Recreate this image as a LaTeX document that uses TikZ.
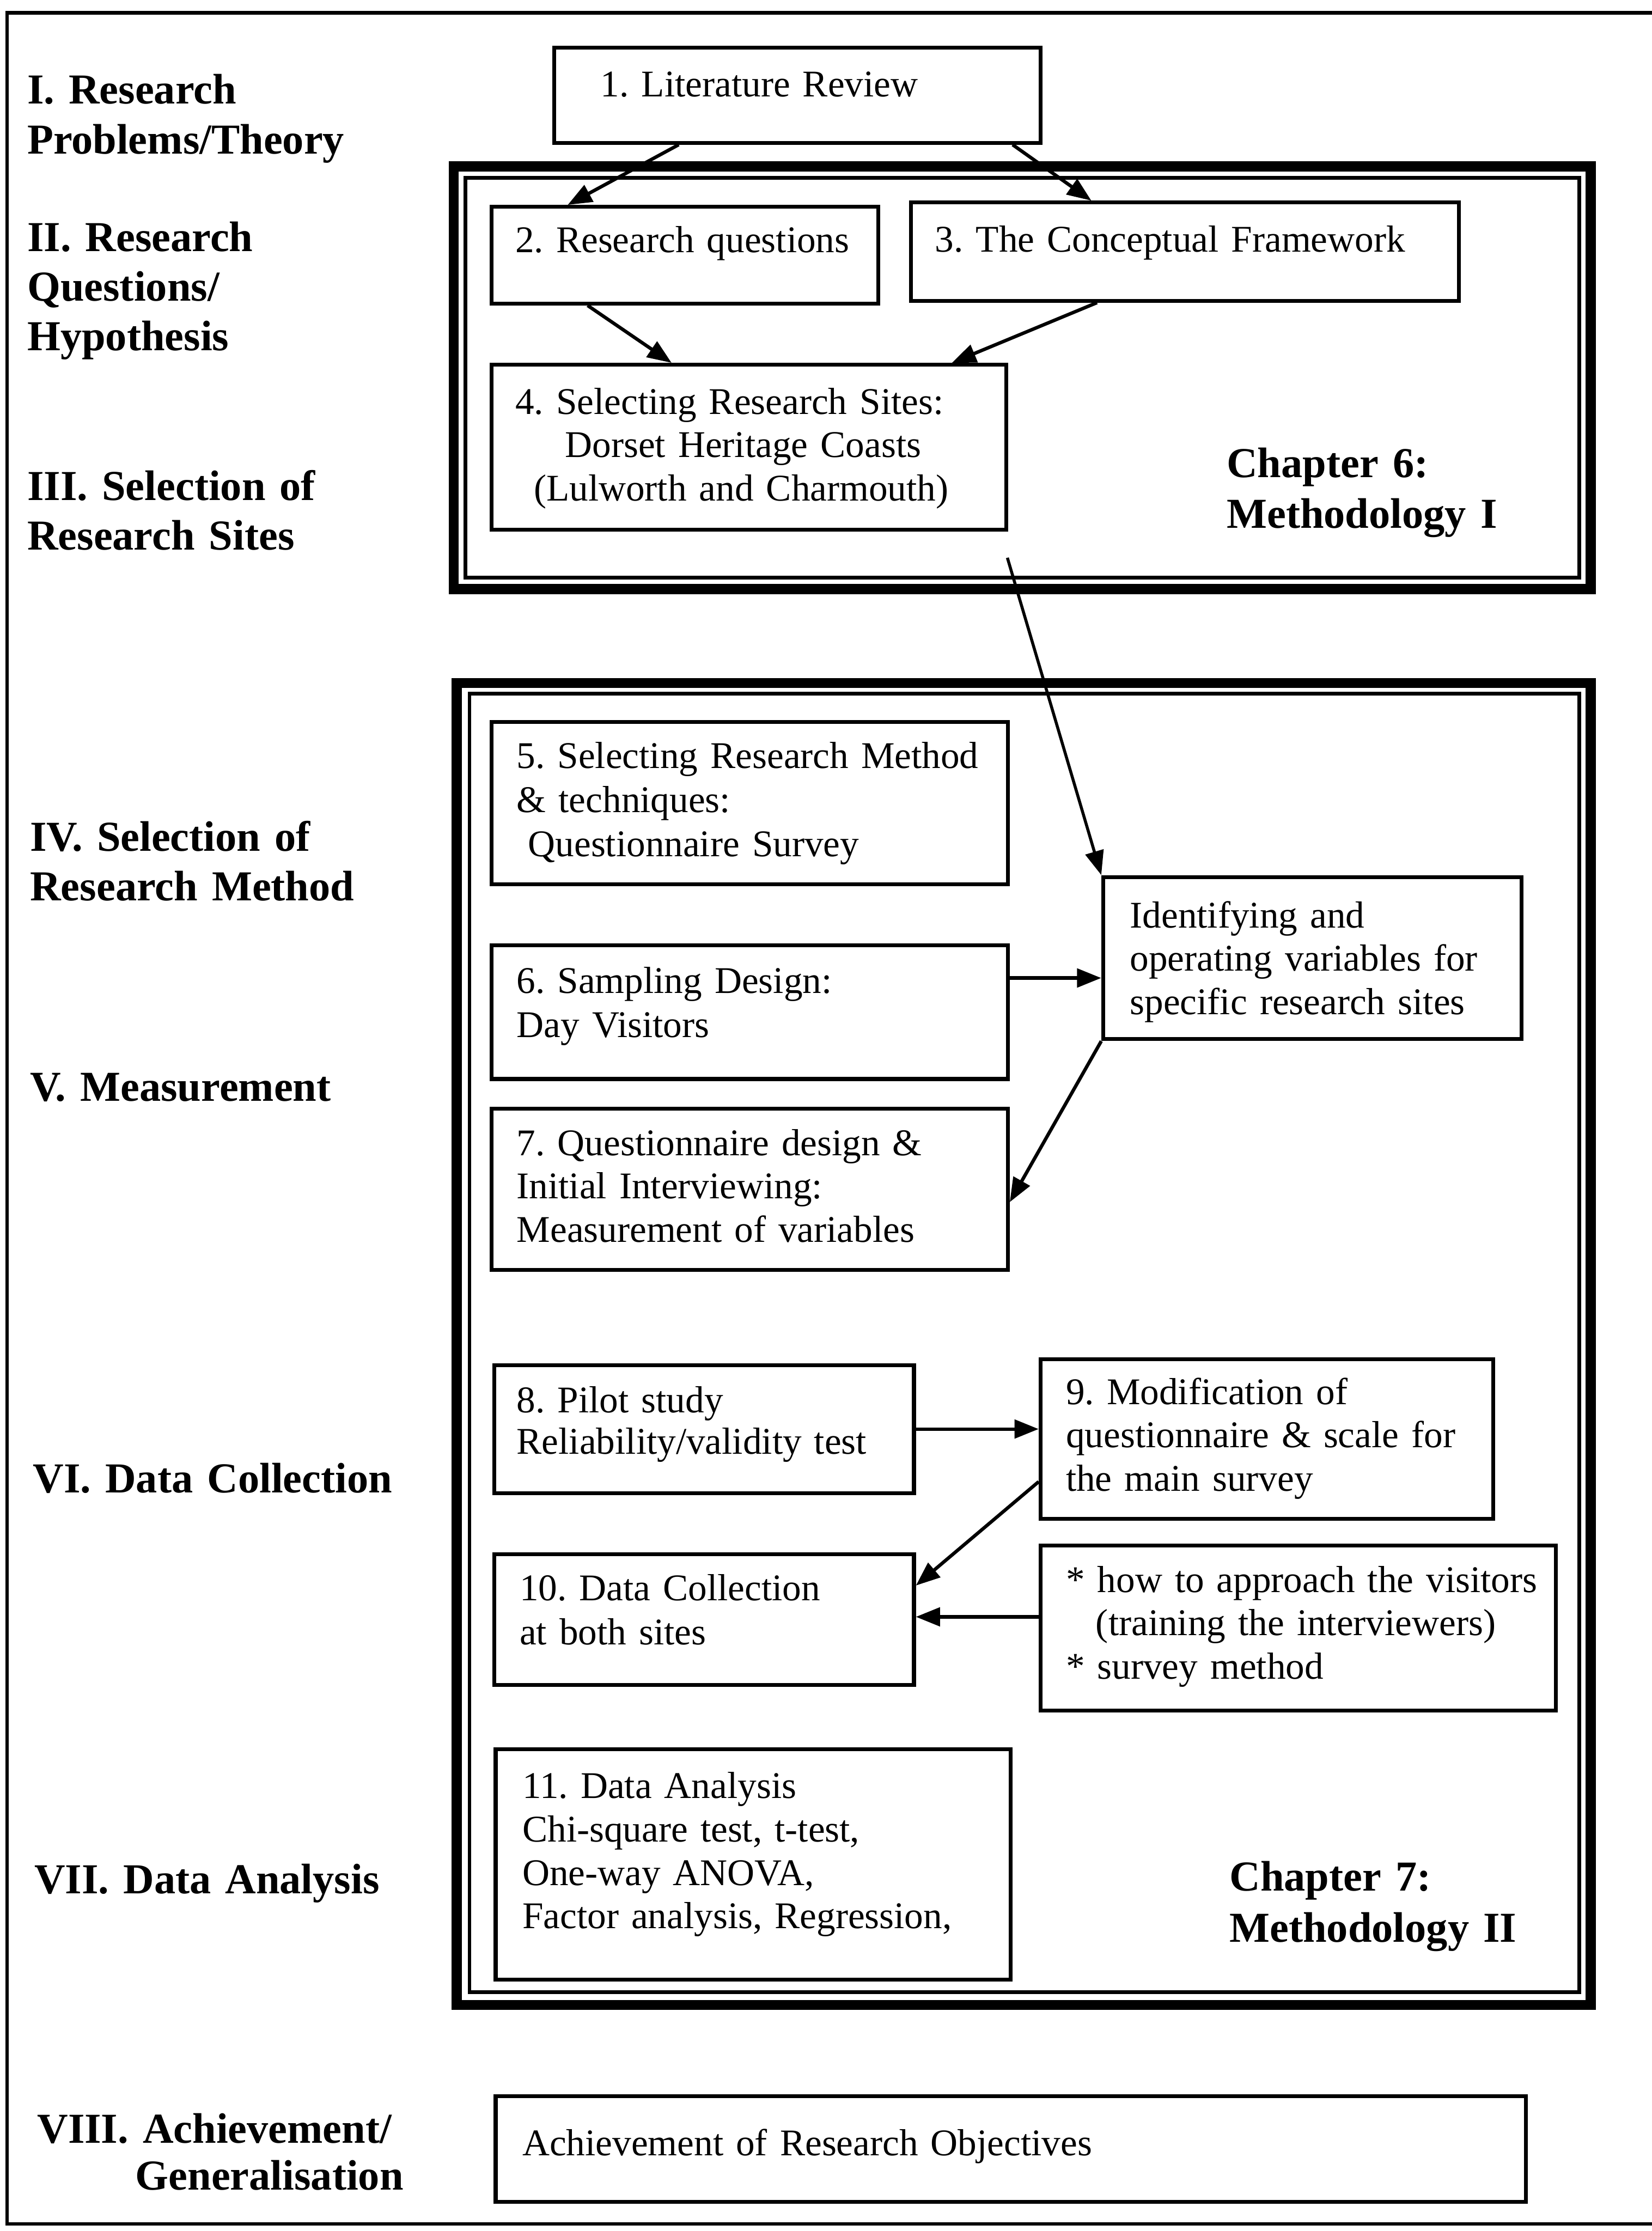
\documentclass[tikz,border=0pt]{standalone}
\usepackage{fontspec}
\setmainfont{Liberation Serif}
\usetikzlibrary{arrows.meta}
\frenchspacing
\begin{document}
\begin{tikzpicture}[x=1pt,y=-1pt,
  box/.style={draw, line width=2.7pt, inner sep=0pt, anchor=north west},
  txt/.style={anchor=base west, inner sep=0pt, text width=420pt, align=left,
              font=\fontsize{26.5}{30.8}\selectfont},
  lbl/.style={anchor=base west, inner sep=0pt, text width=340pt, align=left,
              font=\fontsize{30}{35}\selectfont\bfseries},
  conn/.style={line width=2.4pt, -{Triangle[length=17pt,width=13pt]}},
  thickframe/.style={line width=7pt},
  thinframe/.style={line width=2.6pt}]
\useasboundingbox (0,0) rectangle (1161,1568);

% page frame (open on the right)
\draw[line width=2.6pt] (1175,9) -- (5,9) -- (5,1563) -- (1175,1563);

% chapter frames: thick outer rule with a thin rule inside
\draw[thickframe] (319,117) rectangle (1118,414);
\draw[thinframe]  (327,125) rectangle (1110,406);
\draw[thickframe] (321,480) rectangle (1118,1409);
\draw[thinframe]  (330,487.5) rectangle (1110,1400);

% stage labels
\node[lbl] (l1) at (19,73)    {I. Research\\Problems/Theory};
\node[lbl] (l2) at (19,176.5) {II. Research\\Questions/\\Hypothesis};
\node[lbl] (l3) at (19,351.5) {III. Selection of\\Research Sites};
\node[lbl] (l4) at (21,598)   {IV. Selection of\\Research Method};
\node[lbl] (l5) at (21,774)   {V. Measurement};
\node[lbl] (l6) at (23,1049)  {VI. Data Collection};
\node[lbl] (l7) at (24,1331)  {VII. Data Analysis};
\node[lbl, font=\fontsize{30}{33}\selectfont\bfseries] (l8) at (26,1506)
  {VIII. Achievement/\\\hspace*{69pt}Generalisation};

\node[lbl, font=\fontsize{30}{35.5}\selectfont\bfseries] (ch6) at (862,335.5) {Chapter 6:\\Methodology I};
\node[lbl, font=\fontsize{30}{36}\selectfont\bfseries] (ch7) at (864,1329) {Chapter 7:\\Methodology II};

% boxes
\node[box, minimum width=342pt, minimum height=67pt]  (n1)  at (388,32)   {};
\node[box, minimum width=272pt, minimum height=68pt]  (n2)  at (344,144)  {};
\node[box, minimum width=385pt, minimum height=69pt]  (n3)  at (639,141)  {};
\node[box, minimum width=362pt, minimum height=116pt] (n4)  at (344,255)  {};
\node[box, minimum width=363pt, minimum height=114pt] (n5)  at (344,506)  {};
\node[box, minimum width=294pt, minimum height=114pt] (nI)  at (774,615)  {};
\node[box, minimum width=363pt, minimum height=94pt]  (n6)  at (344,663)  {};
\node[box, minimum width=363pt, minimum height=113pt] (n7)  at (344,778)  {};
\node[box, minimum width=295pt, minimum height=90pt]  (n8)  at (346,958)  {};
\node[box, minimum width=318pt, minimum height=112pt] (n9)  at (730,954)  {};
\node[box, minimum width=295pt, minimum height=92pt]  (n10) at (346,1091) {};
\node[box, minimum width=362pt, minimum height=116pt] (nS)  at (730,1085) {};
\node[box, minimum width=362pt, minimum height=162pt] (n11) at (347,1228) {};
\node[box, minimum width=724pt, minimum height=74pt]  (nA)  at (347,1472) {};

% box texts
\node[txt] (t1) at (422,68) {1. Literature Review};
\node[txt] (t2) at (362,177.5) {2. Research questions};
\node[txt] (t3) at (657,177) {3. The Conceptual Framework};
\node[txt, font=\fontsize{26.5}{30.5}\selectfont] (t4) at (362,291)
  {4. Selecting Research Sites:\\\hspace*{35pt}Dorset Heritage Coasts\\\hspace*{13pt}(Lulworth and Charmouth)};
\node[txt, font=\fontsize{26.5}{31}\selectfont] (t5) at (363,540)
  {5. Selecting Research Method\\\&\ techniques:\\\hspace*{8pt}Questionnaire Survey};
\node[txt, font=\fontsize{26.5}{30.5}\selectfont] (tI) at (794,652)
  {Identifying and\\operating variables for\\specific research sites};
\node[txt, font=\fontsize{26.5}{31}\selectfont] (t6) at (363,698)
  {6. Sampling Design:\\Day Visitors};
\node[txt, font=\fontsize{26.5}{30.5}\selectfont] (t7) at (363,812)
  {7. Questionnaire design \&\\Initial Interviewing:\\Measurement of variables};
\node[txt, font=\fontsize{26.5}{29}\selectfont] (t8) at (363,993)
  {8. Pilot study\\Reliability/validity test};
\node[txt, font=\fontsize{26.5}{30.5}\selectfont] (t9) at (749,987)
  {9. Modification of\\questionnaire \& scale for\\the main survey};
\node[txt, font=\fontsize{26.5}{31}\selectfont] (t10) at (365,1125)
  {10. Data Collection\\at both sites};
\node[txt, font=\fontsize{26.5}{30.5}\selectfont] (tS) at (749,1119)
  {{*} how to approach the visitors\\\hspace*{21pt}(training the interviewers)\\{*} survey method};
\node[txt, font=\fontsize{26.5}{30.5}\selectfont] (t11) at (367,1264)
  {11. Data Analysis\\Chi-square test, t-test,\\One-way ANOVA,\\Factor analysis, Regression,};
\node[txt] (tA) at (367,1515) {Achievement of Research Objectives};

% connectors
\coordinate (c4) at (708,392);
\draw[conn] ([xshift=89pt]n1.south west) -- ([xshift=55pt]n2.north west);
\draw[conn] ([xshift=-21pt]n1.south east) -- ([xshift=128pt]n3.north west);
\draw[conn] ([xshift=69pt]n2.south west) -- ([xshift=128pt]n4.north west);
\draw[conn] ([xshift=132pt]n3.south west) -- ([xshift=325pt]n4.north west);
\draw[conn, line width=2.1pt] (c4) -- (nI.north west);
\draw[conn] ([yshift=24pt]n6.east) coordinate (a6) -- (a6 -| nI.west);
\draw[conn] (nI.south west) -- ([yshift=-9pt]n7.east);
\draw[conn] (n8.east) -- (n8.east -| n9.west);
\draw[conn] ([yshift=-30pt]n9.west) -- ([yshift=24pt]n10.east);
\draw[conn] ([yshift=8pt]nS.west) coordinate (aS) -- (aS -| n10.east);
\end{tikzpicture}
\end{document}
